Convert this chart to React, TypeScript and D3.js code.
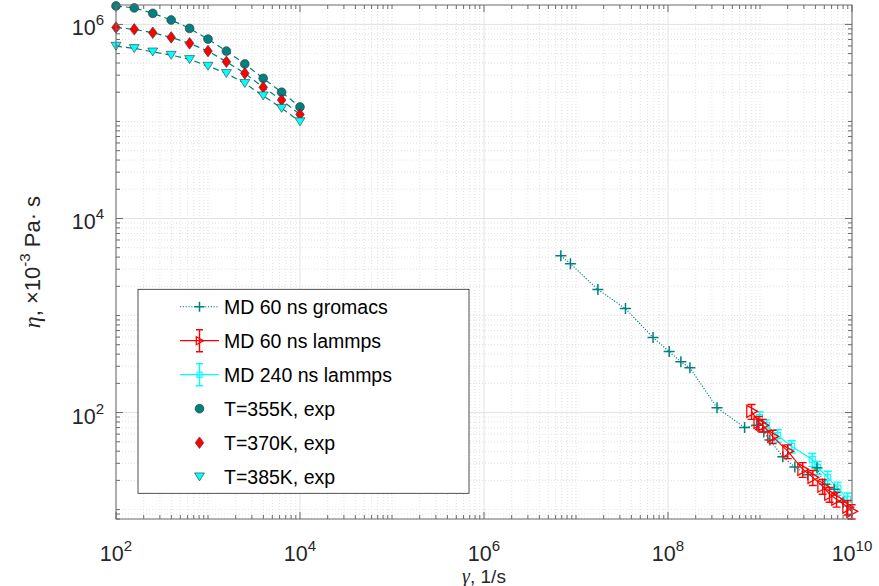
import React from 'react';
import * as d3 from 'd3';

// experimental data (rheometer)
const expRate = [100, 158, 251, 398, 631, 1000, 1585, 2512, 3981, 6310, 10000];
const eta355 = [1.55e6, 1.48e6, 1.3e6, 1.11e6, 9.1e5, 7.06e5, 5.31e5, 3.91e5, 2.78e5, 2.0e5, 1.41e5];
const eta370 = [9.3e5, 8.9e5, 8.2e5, 7.35e5, 6.38e5, 5.31e5, 4.12e5, 3.13e5, 2.25e5, 1.66e5, 1.18e5];
const eta385 = [5.98e5, 5.66e5, 5.22e5, 4.83e5, 4.36e5, 3.72e5, 3.13e5, 2.47e5, 1.84e5, 1.37e5, 9.95e4];

// MD 60 ns gromacs
const gromacsRate = [6.84e6, 8.7e6, 1.73e7, 3.45e7, 6.88e7, 1.03e8, 1.38e8, 1.73e8, 3.41e8, 6.8e8, 9.2e8, 1.1e9, 1.28e9, 1.77e9, 2.39e9, 3.3e9, 4.16e9, 5.05e9, 6.4e9, 8.0e9];
const gromacsEta = [4130, 3420, 1850, 1178, 593, 425, 333, 289, 112, 70, 74, 63, 52, 35, 27.5, 22.8, 27, 18.2, 16.2, 12];

// MD 60 ns lammps
const lammps60Rate = [8.1e8, 9.7e8, 1.07e9, 1.37e9, 2.0e9, 2.91e9, 3.75e9, 4.8e9, 5.7e9, 6.8e9, 8.97e9, 9.9e9];
const lammps60Eta = [103, 79, 74, 56.8, 40, 26, 21.5, 17.4, 14.4, 12.8, 10.6, 9.6];
const lammps60Err = [18, 12, 11, 9, 6.5, 4.5, 3.8, 3, 2.5, 2.2, 1.8, 1.6];

// MD 240 ns lammps
const lammps240Rate = [9.9e8, 1.18e9, 1.56e9, 2.21e9, 3.7e9, 4.24e9, 5.45e9, 7.0e9, 8.97e9];
const lammps240Eta = [89, 74, 58, 44.8, 32.9, 27.2, 21.5, 16.6, 12.8];
const lammps240Err = [13, 10, 8.5, 6.5, 5, 4.2, 3.3, 2.6, 2];

const xTickExps = [2, 4, 6, 8, 10];
const yTickExps = [2, 4, 6];
const legendLabels = ['MD 60 ns gromacs', 'MD 60 ns lammps', 'MD 240 ns lammps', 'T=355K, exp', 'T=370K, exp', 'T=385K, exp'];

const TEAL = '#008080';
const RED = '#ff0000';
const CYAN = '#00ffff';
const EDGE = '#333333';
const FONT = '"Liberation Sans", Arial, Helvetica, sans-serif';
const SERIF = '"Liberation Serif", "Times New Roman", serif';

const W = 879;
const H = 586;
const left = 116, right = 852, top = 5, bottom = 519;

const x = d3.scaleLog().domain([1e2, 1e10]).range([left, right]);
const y = d3.scaleLog().domain([8, Math.pow(10, 6.2)]).range([bottom, top]);

const zip = (xs: number[], ys: number[]) => xs.map((v, i) => [v, ys[i]] as [number, number]);
const line = d3.line<[number, number]>().x((d) => x(d[0])).y((d) => y(d[1]));

const minorVals = (dom: number[], majors: number[]) => {
  const out: number[] = [];
  for (let e = -1; e <= 11; e++) {
    for (let k = 1; k <= 9; k++) {
      const v = k * Math.pow(10, e);
      if (v < dom[0] * 0.999 || v > dom[1] * 1.001) continue;
      if (k === 1 && majors.includes(e)) continue;
      out.push(v);
    }
  }
  return out;
};

const Plus = ({ cx, cy, color, s = 5.5 }: any) => (
  <path d={`M${cx - s},${cy}H${cx + s}M${cx},${cy - s}V${cy + s}`} stroke={color} strokeWidth={1.5} fill="none" />
);
const Circle = ({ cx, cy }: any) => <circle cx={cx} cy={cy} r={4.4} fill={TEAL} stroke={EDGE} strokeWidth={0.6} />;
const Diamond = ({ cx, cy }: any) => (
  <path d={`M${cx},${cy - 5.8}L${cx + 4.3},${cy}L${cx},${cy + 5.8}L${cx - 4.3},${cy}Z`} fill={RED} stroke={EDGE} strokeWidth={0.6} />
);
const TriDown = ({ cx, cy }: any) => (
  <path d={`M${cx - 5},${cy - 3.8}L${cx + 5},${cy - 3.8}L${cx},${cy + 4.2}Z`} fill={CYAN} stroke={EDGE} strokeWidth={0.6} />
);
const TriRight = ({ cx, cy, s = 6 }: any) => (
  <path d={`M${cx - s * 0.8},${cy - s}L${cx + s},${cy}L${cx - s * 0.8},${cy + s}Z`} fill="none" stroke={RED} strokeWidth={1.3} />
);
const Square = ({ cx, cy, s = 3 }: any) => (
  <rect x={cx - s} y={cy - s} width={2 * s} height={2 * s} fill="none" stroke={CYAN} strokeWidth={1.1} />
);

const ErrBar = ({ cx, lo, hi, color, w = 4 }: any) => (
  <path d={`M${cx},${lo}V${hi}M${cx - w},${lo}H${cx + w}M${cx - w},${hi}H${cx + w}`} stroke={color} strokeWidth={1.4} fill="none" />
);

const Pow = ({ base = '10', exp, fs = 21.5 }: any) => (
  <>
    <tspan>{base}</tspan>
    <tspan dy={-10} fontSize={fs * 0.7}>{exp}</tspan>
  </>
);

export default function App() {
  const xMajor = xTickExps.map((e) => Math.pow(10, e));
  const yMajor = yTickExps.map((e) => Math.pow(10, e));
  const xMinor = minorVals(x.domain(), xTickExps);
  const yMinor = minorVals(y.domain(), yTickExps);

  const exps = [
    { eta: eta355, M: Circle },
    { eta: eta370, M: Diamond },
    { eta: eta385, M: TriDown },
  ];

  const lx = 180, lx2 = 219, lmid = 199.5, ltx = 224;
  const ly = (i: number) => 306.7 + i * 34;

  return (
    <svg width={W} height={H} style={{ position: 'absolute', left: 0, top: 0, background: '#fff' }} fontFamily={FONT}>
      <rect x={0} y={0} width={W} height={H} fill="#fff" />
      {/* minor grid */}
      <g stroke="#d9d9d9" strokeWidth={0.8} strokeDasharray="1,2">
        {xMinor.map((v, i) => <line key={'xm' + i} x1={x(v)} x2={x(v)} y1={top} y2={bottom} />)}
        {yMinor.map((v, i) => <line key={'ym' + i} x1={left} x2={right} y1={y(v)} y2={y(v)} />)}
      </g>
      {/* major grid */}
      <g stroke="#e2e2e2" strokeWidth={1}>
        {xMajor.map((v, i) => <line key={'xg' + i} x1={x(v)} x2={x(v)} y1={top} y2={bottom} />)}
        {yMajor.map((v, i) => <line key={'yg' + i} x1={left} x2={right} y1={y(v)} y2={y(v)} />)}
      </g>

      {/* experimental dashed lines */}
      {exps.map((s, k) => (
        <path key={'el' + k} d={line(zip(expRate, s.eta)) || ''} fill="none" stroke={TEAL} strokeWidth={1.2} strokeDasharray="6,4" />
      ))}
      {exps.map((s, k) => (
        <g key={'em' + k}>
          {s.eta.map((v, i) => <s.M key={i} cx={x(expRate[i])} cy={y(v)} />)}
        </g>
      ))}

      {/* MD 240 ns lammps */}
      <path d={line(zip(lammps240Rate, lammps240Eta)) || ''} fill="none" stroke={CYAN} strokeWidth={1.2} />
      {lammps240Eta.map((v, i) => (
        <g key={'c' + i}>
          <ErrBar cx={x(lammps240Rate[i])} lo={y(v - lammps240Err[i])} hi={y(v + lammps240Err[i])} color={CYAN} />
          <Square cx={x(lammps240Rate[i])} cy={y(v)} />
        </g>
      ))}

      {/* MD 60 ns gromacs */}
      <path d={line(zip(gromacsRate, gromacsEta)) || ''} fill="none" stroke={TEAL} strokeWidth={1.1} strokeDasharray="1.2,1.6" />
      {gromacsEta.map((v, i) => <Plus key={'g' + i} cx={x(gromacsRate[i])} cy={y(v)} color={TEAL} />)}

      {/* MD 60 ns lammps */}
      <path d={line(zip(lammps60Rate, lammps60Eta)) || ''} fill="none" stroke={RED} strokeWidth={1.2} />
      {lammps60Eta.map((v, i) => (
        <g key={'r' + i}>
          <ErrBar cx={x(lammps60Rate[i])} lo={y(v - lammps60Err[i])} hi={y(v + lammps60Err[i])} color={RED} />
          <TriRight cx={x(lammps60Rate[i])} cy={y(v)} />
        </g>
      ))}

      {/* axes box + ticks */}
      <g stroke="#6a6a6a" strokeWidth={1} fill="none">
        <rect x={left} y={top} width={right - left} height={bottom - top} />
        {xMajor.map((v, i) => (
          <path key={'xt' + i} d={`M${x(v)},${bottom}v-7M${x(v)},${top}v7`} />
        ))}
        {xMinor.map((v, i) => (
          <path key={'xmt' + i} d={`M${x(v)},${bottom}v-4M${x(v)},${top}v4`} />
        ))}
        {yMajor.map((v, i) => (
          <path key={'yt' + i} d={`M${left},${y(v)}h7M${right},${y(v)}h-7`} />
        ))}
        {yMinor.map((v, i) => (
          <path key={'ymt' + i} d={`M${left},${y(v)}h4M${right},${y(v)}h-4`} />
        ))}
      </g>

      {/* tick labels */}
      <g fontSize={21.5} fill="#262626">
        {xTickExps.map((e, i) => (
          <text key={'xl' + i} x={x(Math.pow(10, e))} y={561} textAnchor="middle">
            <Pow exp={String(e)} />
          </text>
        ))}
        {yTickExps.map((e, i) => (
          <text key={'yl' + i} x={104} y={y(Math.pow(10, e)) + 11} textAnchor="end">
            <Pow exp={String(e)} />
          </text>
        ))}
      </g>

      {/* axis labels */}
      <text x={(left + right) / 2} y={583} textAnchor="middle" fontSize={19} fill="#262626">
        <tspan fontFamily={SERIF} fontStyle="italic" fontSize={20}>γ</tspan>
        <tspan>, 1/s</tspan>
      </text>
      <text transform={`translate(40,${(top + bottom) / 2}) rotate(-90)`} textAnchor="middle" fontSize={22} fill="#262626">
        <tspan fontFamily={SERIF} fontStyle="italic" fontSize={24}>η</tspan>
        <tspan>, ×10</tspan>
        <tspan dy={-10} fontSize={15}>-3</tspan>
        <tspan dy={10}> Pa· s</tspan>
      </text>

      {/* legend */}
      <rect x={138} y={289.3} width={331} height={204} fill="#fff" stroke="#262626" strokeWidth={0.8} />
      <g>
        <line x1={lx} x2={lx2} y1={ly(0)} y2={ly(0)} stroke={TEAL} strokeWidth={1.1} strokeDasharray="1.2,1.6" />
        <Plus cx={lmid} cy={ly(0)} color={TEAL} s={5} />
        <line x1={lx} x2={lx2} y1={ly(1)} y2={ly(1)} stroke={RED} strokeWidth={1.2} />
        <ErrBar cx={lmid} lo={ly(1) + 11} hi={ly(1) - 11} color={RED} w={3.5} />
        <TriRight cx={lmid} cy={ly(1)} s={4} />
        <line x1={lx} x2={lx2} y1={ly(2)} y2={ly(2)} stroke={CYAN} strokeWidth={1.2} />
        <ErrBar cx={lmid} lo={ly(2) + 11} hi={ly(2) - 11} color={CYAN} w={3.5} />
        <Square cx={lmid} cy={ly(2)} s={2.6} />
        <Circle cx={lmid} cy={ly(3)} />
        <Diamond cx={lmid} cy={ly(4)} />
        <TriDown cx={lmid} cy={ly(5)} />
      </g>
      <g fontSize={19.5} fill="#000">
        {legendLabels.map((t, i) => (
          <text key={'lg' + i} x={ltx} y={ly(i) + 7}>{t}</text>
        ))}
      </g>
    </svg>
  );
}
